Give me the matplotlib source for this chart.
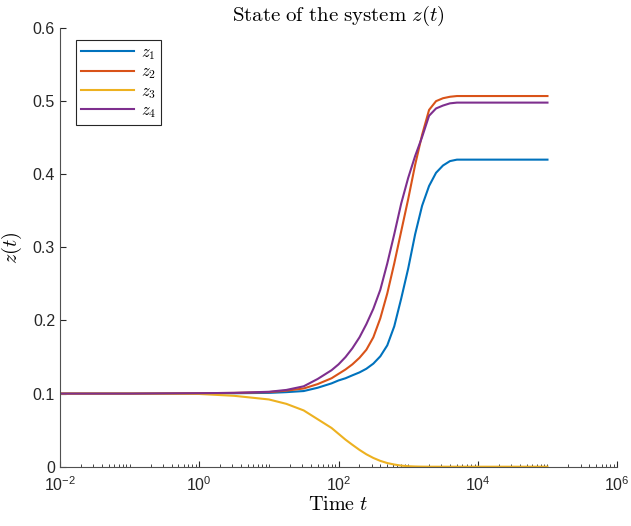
import numpy as np
import matplotlib
matplotlib.use("Agg")
import matplotlib.pyplot as plt
from matplotlib.ticker import LogLocator, FixedLocator, NullFormatter
from matplotlib.font_manager import FontProperties

# time samples
t = [0.01, 0.1, 1, 3.16, 10, 17.8, 31.6, 50.1, 79.4, 100, 126, 158, 200, 251,
     316, 398, 501, 631, 794, 1000, 1259, 1585, 1995, 2512, 3162, 3981, 5012,
     6310, 10000, 31623, 100000]

# state values per component
z1 = [0.1, 0.1, 0.1003, 0.1005, 0.101, 0.102, 0.1035, 0.108, 0.114, 0.118,
      0.121, 0.125, 0.129, 0.134, 0.141, 0.151, 0.166, 0.192, 0.230, 0.271,
      0.318, 0.357, 0.384, 0.402, 0.412, 0.418, 0.420, 0.420, 0.420, 0.420,
      0.420]
z2 = [0.1, 0.1, 0.1005, 0.101, 0.102, 0.104, 0.107, 0.113, 0.121, 0.127,
      0.133, 0.140, 0.149, 0.160, 0.177, 0.203, 0.237, 0.278, 0.322, 0.366,
      0.413, 0.454, 0.488, 0.500, 0.504, 0.506, 0.507, 0.507, 0.507, 0.507,
      0.507]
z3 = [0.1, 0.1, 0.0995, 0.097, 0.092, 0.086, 0.077, 0.065, 0.053, 0.045,
      0.037, 0.030, 0.023, 0.017, 0.012, 0.008, 0.005, 0.003, 0.0015, 0.0007,
      0.0003, 0.0001, 0.0, 0.0, 0.0, 0.0, 0.0, 0.0, 0.0, 0.0, 0.0]
z4 = [0.1, 0.1, 0.1005, 0.101, 0.1025, 0.105, 0.110, 0.120, 0.132, 0.140,
      0.150, 0.162, 0.177, 0.195, 0.216, 0.242, 0.278, 0.318, 0.360, 0.395,
      0.425, 0.451, 0.480, 0.490, 0.494, 0.497, 0.498, 0.498, 0.498, 0.498,
      0.498]

series = [z1, z2, z3, z4]
names = [r"$z_1$", r"$z_2$", r"$z_3$", r"$z_4$"]
colors = ["#0072BD", "#D95319", "#EDB120", "#7E2F8E"]

plt.rcParams['font.family'] = ['Liberation Sans', 'DejaVu Sans']
plt.rcParams['font.size'] = 11

fig = plt.figure(figsize=(6.31, 5.26), dpi=100)
ax = fig.add_axes([0.095, 0.1127, 0.883, 0.834])

for z, name, c in zip(series, names, colors):
    ax.plot(t, z, color=c, lw=1.5, label=name)

ax.set_xscale('log')
ax.set_xlim(1e-2, 1e6)
ax.set_ylim(0, 0.6)
ax.xaxis.set_major_locator(FixedLocator([1e-2, 1e0, 1e2, 1e4, 1e6]))
ax.xaxis.set_minor_locator(LogLocator(base=10, subs=np.arange(1, 10), numticks=100))
ax.xaxis.set_minor_formatter(NullFormatter())
ax.set_yticks([0, 0.1, 0.2, 0.3, 0.4, 0.5, 0.6])
ax.set_yticklabels(["0", "0.1", "0.2", "0.3", "0.4", "0.5", "0.6"])

for s in ['top', 'right']:
    ax.spines[s].set_visible(False)
for s in ['left', 'bottom']:
    ax.spines[s].set_color('#505050')
    ax.spines[s].set_linewidth(0.8)
ax.tick_params(which='major', direction='in', length=4.5, width=0.8,
               color='#262626', labelcolor='#262626', labelsize=11.5)
ax.tick_params(which='minor', direction='in', length=2.2, width=0.6, color='#262626')
ax.tick_params(axis='x', pad=6)

ax.set_title(r"$\mathrm{State\ of\ the\ system}\ z(t)$", fontsize=15,
             math_fontfamily='cm', pad=5)
ax.set_xlabel(r"$\mathrm{Time}\ t$", fontsize=14.5, math_fontfamily='cm', labelpad=1)
ax.set_ylabel(r"$z(t)$", fontsize=14.5, math_fontfamily='cm', labelpad=6)

leg = ax.legend(loc='upper left', bbox_to_anchor=(0.029, 0.972),
                prop=FontProperties(size=12, math_fontfamily='cm'),
                handlelength=3.2, handletextpad=0.4, labelspacing=0.15,
                borderpad=0.3, fancybox=False, framealpha=1, borderaxespad=0)
leg.get_frame().set_edgecolor('#262626')
leg.get_frame().set_linewidth(0.8)

fig.savefig("out.png", dpi=100)
